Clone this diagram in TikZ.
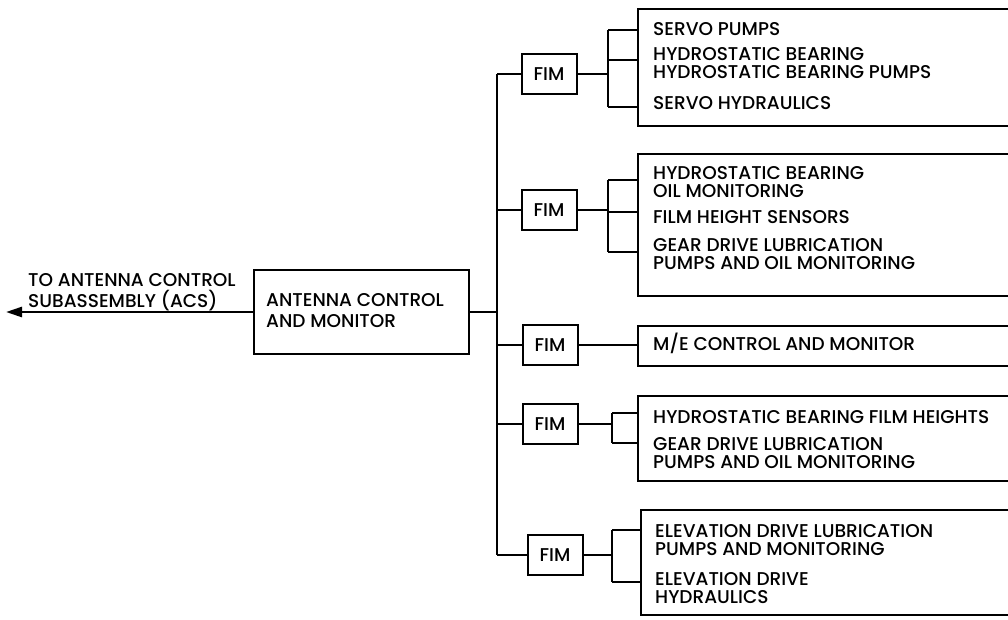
\documentclass[tikz,border=0pt]{standalone}
\usepackage{fontspec}
\setmainfont{Poppins}[UprightFont={* Medium}]
\usetikzlibrary{arrows.meta,calc}

\begin{document}
\begin{tikzpicture}[x=1pt,y=-1pt,
    box/.style={draw,line width=2pt},
    wire/.style={line width=2.6pt},
    lbl/.style={anchor=west,align=left,inner sep=0pt,font=\fontsize{18.5}{17.5}\selectfont},
    biglbl/.style={lbl,font=\fontsize{18.5}{21}\selectfont},
    fimbox/.style={box,minimum width=55pt,minimum height=40pt,inner sep=0pt,font=\fontsize{18.5}{16}\selectfont}]
    \useasboundingbox (0,0) rectangle (1008,619);

    % Main box and arrow to ACS
    \node[box,minimum width=215pt,minimum height=84pt,anchor=north west] (acm) at (253,269) {};
    \node[biglbl] (acmtext) at (266,311) {ANTENNA CONTROL\\AND MONITOR};
    \coordinate (acs) at (6,312);
    \draw[wire,-{Triangle[length=16pt,width=10pt]}] (acm.west) -- (acs);
    \node[biglbl] (acslabel) at (28,292) {TO ANTENNA CONTROL\\SUBASSEMBLY (ACS)};

    % FIM boxes
    \node[fimbox] (fim1) at (549,74) {FIM};
    \node[fimbox] (fim2) at (549,210) {FIM};
    \node[fimbox] (fim3) at (550,345) {FIM};
    \node[fimbox] (fim4) at (550,424) {FIM};
    \node[fimbox] (fim5) at (555,555) {FIM};

    % Bus
    \coordinate (bus) at (497,312);
    \draw[wire] (acm.east) -- (bus);
    \draw[wire] (fim1.west -| bus) -- (fim5.west -| bus);
    \foreach \i in {1,...,5} {
        \draw[wire] (fim\i.west -| bus) -- (fim\i.west);
    }

    % Equipment boxes (cut off at right edge)
    \node[box,anchor=north west,minimum width=380pt,minimum height=117pt] (box1) at (637,8) {};
    \node[box,anchor=north west,minimum width=380pt,minimum height=142pt] (box2) at (637,153) {};
    \node[box,anchor=north west,minimum width=380pt,minimum height=40pt] (box3) at (637,325) {};
    \node[box,anchor=north west,minimum width=380pt,minimum height=85pt] (box4) at (637,395) {};
    \node[box,anchor=north west,minimum width=380pt,minimum height=105pt] (box5) at (640,509) {};

    % Junctions
    \coordinate (j1) at (608,74);
    \coordinate (j2) at (608,210);
    \coordinate (j4) at (612,424);
    \coordinate (j5) at (612,555);

    % Group 1
    \draw[wire] (fim1.east) -- (j1);
    \draw[wire] (j1 |- 0,30) -- (j1 |- 0,107);
    \draw[wire] (j1 |- 0,30) -- (box1.west |- 0,30);
    \draw[wire] (j1 |- 0,60) -- (box1.west |- 0,60);
    \draw[wire] (j1 |- 0,107) -- (box1.west |- 0,107);
    \node[lbl] (t11) at (653,29) {SERVO PUMPS};
    \node[lbl] (t12) at (653,63) {HYDROSTATIC BEARING\\HYDROSTATIC BEARING PUMPS};
    \node[lbl] (t13) at (653,103) {SERVO HYDRAULICS};

    % Group 2
    \draw[wire] (fim2.east) -- (j2);
    \draw[wire] (j2 |- 0,180) -- (j2 |- 0,252);
    \draw[wire] (j2 |- 0,180) -- (box2.west |- 0,180);
    \draw[wire] (j2 |- 0,212) -- (box2.west |- 0,212);
    \draw[wire] (j2 |- 0,252) -- (box2.west |- 0,252);
    \node[lbl] (t21) at (653,182) {HYDROSTATIC BEARING\\OIL MONITORING};
    \node[lbl] (t22) at (653,217) {FILM HEIGHT SENSORS};
    \node[lbl] (t23) at (653,254) {GEAR DRIVE LUBRICATION\\PUMPS AND OIL MONITORING};

    % Group 3
    \draw[wire] (fim3.east) -- (box3.west |- fim3.east);
    \node[lbl] (t31) at (653,343) {M/E CONTROL AND MONITOR};

    % Group 4
    \draw[wire] (fim4.east) -- (j4);
    \draw[wire] (j4 |- 0,413) -- (j4 |- 0,443);
    \draw[wire] (j4 |- 0,413) -- (box4.west |- 0,413);
    \draw[wire] (j4 |- 0,443) -- (box4.west |- 0,443);
    \node[lbl] (t41) at (653,417) {HYDROSTATIC BEARING FILM HEIGHTS};
    \node[lbl] (t42) at (653,453) {GEAR DRIVE LUBRICATION\\PUMPS AND OIL MONITORING};

    % Group 5
    \draw[wire] (fim5.east) -- (j5);
    \draw[wire] (j5 |- 0,530) -- (j5 |- 0,582);
    \draw[wire] (j5 |- 0,530) -- (box5.west |- 0,530);
    \draw[wire] (j5 |- 0,582) -- (box5.west |- 0,582);
    \node[lbl] (t51) at (655,540) {ELEVATION DRIVE LUBRICATION\\PUMPS AND MONITORING};
    \node[lbl] (t52) at (655,588) {ELEVATION DRIVE\\HYDRAULICS};
\end{tikzpicture}
\end{document}
